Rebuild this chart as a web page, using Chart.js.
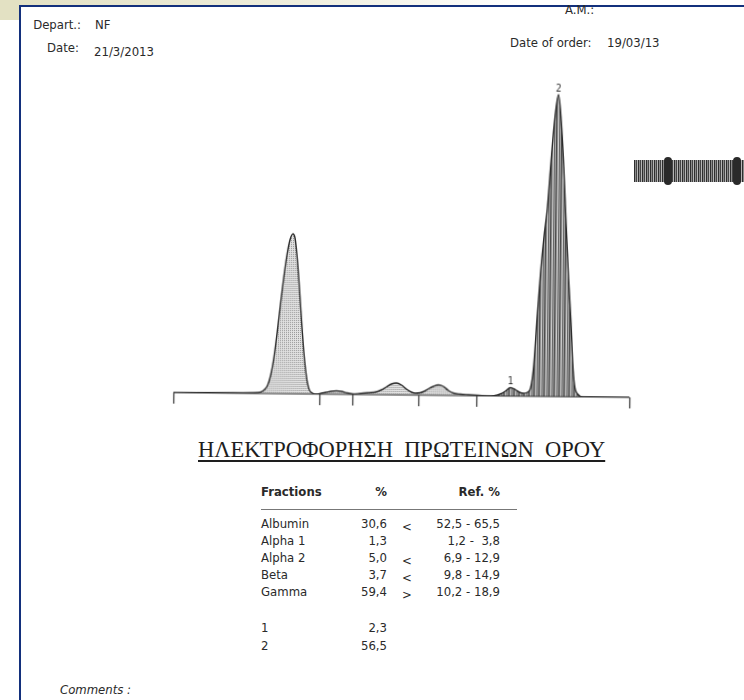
<!DOCTYPE html>
<html>
<head>
<meta charset="utf-8">
<script src="https://cdn.jsdelivr.net/npm/chart.js@4.4.0/dist/chart.umd.min.js"></script>
<style>
  body { margin: 0; width: 744px; height: 700px; position: relative; overflow: hidden; background: #fff;
         font-family: "DejaVu Sans Condensed", "DejaVu Sans", sans-serif; color: #2a2a2a; font-size: 13px; }
  .abs { position: absolute; white-space: pre; }
  #topband { position: absolute; left: 0; top: 0; width: 744px; height: 5px; background: linear-gradient(90deg, #e3e1c3, #efeedd 40%, #fff 70%); }
  #leftband { position: absolute; left: 0; top: 0; width: 19px; height: 20px; background: #e3e1c3; }
  #frameL { position: absolute; left: 19px; top: 5px; width: 2px; height: 695px; background: #13307c; }
  #frameT { position: absolute; left: 19px; top: 5px; width: 725px; height: 2px; background: #13307c; }
  #chartWrap { position: absolute; left: 150px; top: 60px; width: 500px; height: 360px; transform: rotate(0.6deg); }
  #title { position: absolute; left: 198px; top: 437px; font-family: "Liberation Serif", serif; font-size: 22.5px;
           text-decoration: underline; text-underline-offset: 3px; white-space: pre; color: #1e1e1e; }
  #rule { position: absolute; left: 261px; top: 509px; width: 256px; height: 1px; background: #777; }
  #strip { position: absolute; left: 634px; top: 160px; width: 110px; height: 22px;
           background: repeating-linear-gradient(90deg, #2e2e2e 0 1px, #8a8a8a 1px 2px, #444 2px 3px, #b5b5b5 3px 4px); }
  .knot { position: absolute; top: 157px; width: 8px; height: 28px; border-radius: 4px; background: #2a2a2a; }
</style>
</head>
<body>
<div id="topband"></div>
<div id="leftband"></div>
<div id="frameL"></div>
<div id="frameT"></div>

<div class="abs" style="right:663px;top:17px;">Depart.:</div>
<div class="abs" style="left:95px;top:17px;">NF</div>
<div class="abs" style="right:665px;top:40px;">Date:</div>
<div class="abs" style="left:94px;top:44px;">21/3/2013</div>
<div class="abs" style="left:565px;top:2px;">A.M.:</div>
<div class="abs" style="left:510px;top:35px;">Date of order:</div>
<div class="abs" style="left:607px;top:35px;">19/03/13</div>

<div id="strip"></div>
<div class="knot" style="left:664px;"></div>
<div class="knot" style="left:733px;"></div>

<div id="chartWrap"><canvas id="chart" width="500" height="360"></canvas></div>

<div id="title">ΗΛΕΚΤΡΟΦΟΡΗΣΗ  ΠΡΩΤΕΙΝΩΝ  ΟΡΟΥ</div>
<div id="rule"></div>
<div id="table"></div>
<div class="abs" style="left:60px;top:682px;font-style:italic;">Comments :</div>

<script>
// densitometer trace, x = distance along strip, y = absorbance (both in trace units)
const curveX = [0, 60, 85, 90, 94, 97, 100, 103, 106, 109, 112, 115, 118, 120, 122, 124, 126, 128, 130, 132, 134, 136, 139, 143,
  148, 153, 158, 163, 168, 174, 180, 186, 195, 203, 208, 213, 218, 223, 228, 233, 238, 242,
  247, 251, 255, 260, 265, 270, 275, 280, 287, 295, 305, 318,
  324, 328, 332, 337, 342, 346, 350, 354,
  357, 360, 363, 366, 369, 372, 375, 378, 382, 385, 388, 391, 394, 397, 399, 401, 404, 410, 456];
const curveY = [0, 0.5, 1, 3, 8, 18, 35, 60, 88, 115, 138, 154, 160, 156, 140, 118, 92, 66, 42, 24, 11, 4, 1, 0,
  1, 2, 3, 3.5, 3, 1.5, 0.5, 1, 2, 3, 5, 8, 11, 12, 10, 6, 3, 2,
  2.5, 4, 6.5, 9, 10.5, 9, 5, 2.5, 1.5, 1, 0.5, 0,
  1, 2.5, 5, 8.5, 6.5, 4, 3, 4,
  8, 30, 80, 125, 160, 188, 232, 272, 302, 276, 230, 172, 118, 72, 34, 12, 3, 0, 0];
const fractionTicks = [0, 146, 179, 245, 303, 456];
const peakNames = ['1', '2'];
const peakX = [337, 382];
const peakY = [8.5, 302];

const fractions = ['Albumin', 'Alpha 1', 'Alpha 2', 'Beta', 'Gamma'];
const percents = ['30,6', '1,3', '5,0', '3,7', '59,4'];
const flags = ['<', '', '<', '<', '>'];
const refRanges = ['52,5 - 65,5', '1,2 -  3,8', '6,9 - 12,9', '9,8 - 14,9', '10,2 - 18,9'];
const peakPercents = ['2,3', '56,5'];

const DARK_FROM = 320; // gamma spikes are shaded darker

function makePattern(w, h, draw) {
  const c = document.createElement('canvas');
  c.width = w; c.height = h;
  draw(c.getContext('2d'));
  return c.getContext('2d').createPattern(c, 'repeat');
}

const dotted = makePattern(2, 2, g => {
  g.fillStyle = '#e2e2e2'; g.fillRect(0, 0, 2, 2);
  g.fillStyle = '#939393'; g.fillRect(1, 1, 1, 1);
});
const striped = makePattern(5, 1, g => {
  ['#4a4a4a', '#8c8c8c', '#cfcfcf', '#666', '#a5a5a5'].forEach((col, i) => { g.fillStyle = col; g.fillRect(i, 0, 1, 1); });
});

const traceMarks = {
  id: 'traceMarks',
  afterDatasetsDraw(chart) {
    const { ctx, scales: { x, y } } = chart;
    const y0 = y.getPixelForValue(0);
    ctx.save();
    ctx.strokeStyle = '#333';
    ctx.lineWidth = 1.2;
    ctx.beginPath();
    ctx.moveTo(x.getPixelForValue(fractionTicks[0]), y0);
    ctx.lineTo(x.getPixelForValue(fractionTicks[fractionTicks.length - 1]), y0);
    fractionTicks.forEach(t => {
      const px = Math.round(x.getPixelForValue(t)) + 0.5;
      ctx.moveTo(px, y0);
      ctx.lineTo(px, y0 + 11);
    });
    ctx.stroke();
    ctx.fillStyle = '#333';
    ctx.font = '10px "DejaVu Sans Condensed", sans-serif';
    ctx.textAlign = 'center';
    ctx.textBaseline = 'bottom';
    peakNames.forEach((n, i) => ctx.fillText(n, x.getPixelForValue(peakX[i]), y.getPixelForValue(peakY[i]) - 1));
    ctx.restore();
  }
};

new Chart(document.getElementById('chart'), {
  type: 'line',
  data: {
    datasets: [{
      data: curveX.map((v, i) => ({ x: v, y: curveY[i] })),
      borderColor: '#2b2b2b',
      borderWidth: 1.4,
      pointRadius: 0,
      cubicInterpolationMode: 'monotone',
      fill: 'origin',
      backgroundColor: dotted,
      segment: {
        backgroundColor: c => c.p0.parsed.x >= DARK_FROM ? striped : dotted
      }
    }]
  },
  options: {
    responsive: false,
    animation: false,
    layout: { padding: { left: 25, right: 18, top: 15, bottom: 25 } },
    scales: {
      x: { type: 'linear', min: 0, max: 457, display: false },
      y: { min: 0, max: 320, display: false }
    },
    plugins: { legend: { display: false }, tooltip: { enabled: false } }
  },
  plugins: [traceMarks]
});

// results table
const table = document.getElementById('table');
function put(text, left, top, align, extra) {
  const d = document.createElement('div');
  d.className = 'abs';
  d.textContent = text;
  d.style.top = top + 'px';
  if (align === 'right') d.style.right = (744 - left) + 'px'; else d.style.left = left + 'px';
  if (extra) d.style.cssText += extra;
  table.appendChild(d);
}
put('Fractions', 261, 484, 'left', 'font-weight:bold;');
put('%', 387, 484, 'right', 'font-weight:bold;');
put('Ref. %', 500, 484, 'right', 'font-weight:bold;');
fractions.forEach((f, i) => {
  const top = 516 + i * 17;
  put(f, 261, top, 'left');
  put(percents[i], 387, top, 'right');
  put(flags[i], 402, top + 3, 'left');
  put(refRanges[i], 500, top, 'right');
});
peakPercents.forEach((p, i) => {
  const top = 620 + i * 18;
  put(peakNames[i], 261, top, 'left');
  put(p, 387, top, 'right');
});
</script>
</body>
</html>
